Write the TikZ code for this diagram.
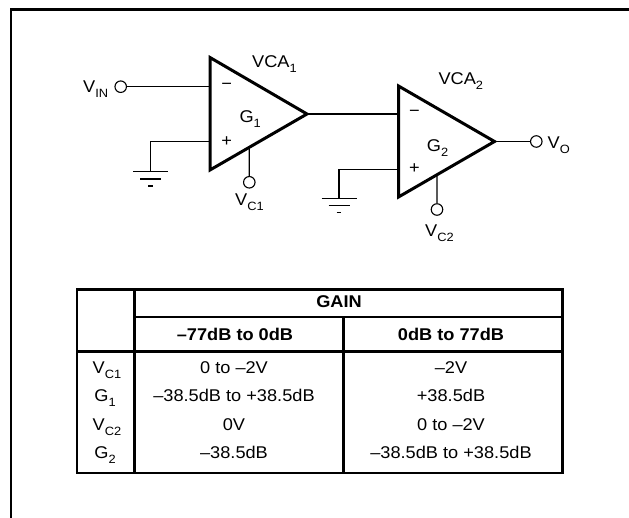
\documentclass[tikz,border=0pt]{standalone}
\usepackage{fontspec}
\setmainfont[FakeStretch=1.07]{Liberation Sans}
\usetikzlibrary{calc}
\newcommand{\lsub}[1]{\raisebox{-5pt}{\fontsize{12}{12}\selectfont #1}}
\tikzset{
  wire/.style={line width=1.2pt},
  ampline/.style={line width=3pt, line join=miter},
  frameline/.style={line width=2.6pt},
  tblline/.style={line width=2.6pt},
  term/.style={circle, draw, line width=1.1pt, minimum size=11.5pt, inner sep=0pt, fill=white},
  lbl/.style={inner sep=0pt, font=\fontsize{17}{20}\selectfont},
  blbl/.style={inner sep=0pt, font=\fontsize{17}{20}\selectfont\bfseries},
}
\begin{document}
\begin{tikzpicture}[x=1pt,y=-1pt]
\useasboundingbox (0,0) rectangle (629,518);
% frame
\coordinate (fTR) at (629,9.5);
\coordinate (fTL) at (10.8,9.5);
\coordinate (fBL) at (10.8,518);
\draw[frameline] (fTR) -- (fTL) -- (fBL);

% amplifier 1
\coordinate (a1t) at (210,57.5);
\coordinate (a1b) at (210,170);
\coordinate (a1o) at (307,114);
\coordinate (a1m) at (210,86.7);
\coordinate (a1p) at (210,141.7);
\draw[ampline] (a1t) -- (a1b) -- (a1o) -- cycle;
% amplifier 2
\coordinate (a2t) at (398.5,86);
\coordinate (a2b) at (398.5,197);
\coordinate (a2o) at (494.5,141.5);
\coordinate (a2m) at (398.5,114);
\coordinate (a2p) at (398.5,169.3);
\draw[ampline] (a2t) -- (a2b) -- (a2o) -- cycle;

% terminals
\node[term] (vin) at (120.7,86.7) {};
\node[term] (vc1) at (249.3,182.3) {};
\node[term] (vc2) at (437,209.5) {};
\node[term] (vo) at (536.3,141.5) {};
\coordinate (c1t) at ($(a1b)!{(249.3-210)/97}!(a1o)$);
\coordinate (c2t) at ($(a2b)!{(437-398.5)/96}!(a2o)$);

% wires
\draw[wire] (vin) -- (a1m);
\draw[wire] (a1o) -- (a1o -| a2m);
\draw[wire] (a2o) -- (vo);
\draw[wire] (c1t) -- (vc1);
\draw[wire] (c2t) -- (vc2);

% grounds
\coordinate (g1) at (150.7,171.7);
\coordinate (g2) at (339,198.3);
\draw[wire] (a1p) -| (g1);
\draw[wire] (a2p) -| (g2);
\foreach \g in {g1,g2}{
  \draw[wire] ($(\g)+(-17.5,0)$) -- ($(\g)+(17.5,0)$);
  \draw[wire] ($(\g)+(-10.5,7.3)$) -- ($(\g)+(10.5,7.3)$);
  \draw[wire] ($(\g)+(-2.3,14.3)$) -- ($(\g)+(2.3,14.3)$);
}

% amp signs and labels
\node[lbl] (m1) at (226.7,86.7) {−};
\node[lbl] (p1) at (226.7,141.7) {+};
\node[lbl] (m2) at (414.5,113.5) {−};
\node[lbl] (p2) at (414.5,169) {+};
\node[lbl, anchor=base west] (gl1) at (239.3,122.7) {G\lsub{1}};
\node[lbl, anchor=base west] (gl2) at (426.7,151.7) {G\lsub{2}};
\node[lbl, anchor=base west] (vca1) at (252,67.3) {VCA\lsub{1}};
\node[lbl, anchor=base west] (vca2) at (438.3,85) {VCA\lsub{2}};
\node[lbl, anchor=base west] (tvin) at (83,92.7) {V\lsub{IN}};
\node[lbl, anchor=base west] (tvo) at (547.5,148.3) {V\lsub{O}};
\node[lbl, anchor=base west] (tvc1) at (235,206) {V\lsub{C1}};
\node[lbl, anchor=base west] (tvc2) at (425,236.7) {V\lsub{C2}};

% table
\coordinate (tTL) at (77,289.3);
\coordinate (tBR) at (562.5,473);
\coordinate (c1) at (134.5,289.3);
\coordinate (c2) at (343.3,317);
\draw[tblline] (tTL) rectangle (tBR);
\draw[tblline] (c1) -- (c1 |- tBR);
\draw[tblline] (c2) -- (c2 |- tBR);
\draw[tblline] (c1 |- c2) -- (tBR |- c2);
\draw[tblline] (77,351.7) -- (562.5,351.7);

\node[blbl, anchor=base] (gain) at (339,307.7) {GAIN};
\node[blbl, anchor=base] (h1) at (235,341) {\textendash77dB to 0dB};
\node[blbl, anchor=base] (h2) at (451,341) {0dB to 77dB};

\node[lbl, anchor=base] (r1) at (107,373.3) {V\lsub{C1}};
\node[lbl, anchor=base] (r2) at (105,401.7) {G\lsub{1}};
\node[lbl, anchor=base] (r3) at (107,430) {V\lsub{C2}};
\node[lbl, anchor=base] (r4) at (105,458.3) {G\lsub{2}};

\node[lbl, anchor=base] (d11) at (234,373.3) {0 to \textendash2V};
\node[lbl, anchor=base] (d21) at (234,401.7) {\textendash38.5dB to +38.5dB};
\node[lbl, anchor=base] (d31) at (234,430) {0V};
\node[lbl, anchor=base] (d41) at (234,458.3) {\textendash38.5dB};

\node[lbl, anchor=base] (d12) at (451,373.3) {\textendash2V};
\node[lbl, anchor=base] (d22) at (451,401.7) {+38.5dB};
\node[lbl, anchor=base] (d32) at (451,430) {0 to \textendash2V};
\node[lbl, anchor=base] (d42) at (451,458.3) {\textendash38.5dB to +38.5dB};
\end{tikzpicture}
\end{document}
